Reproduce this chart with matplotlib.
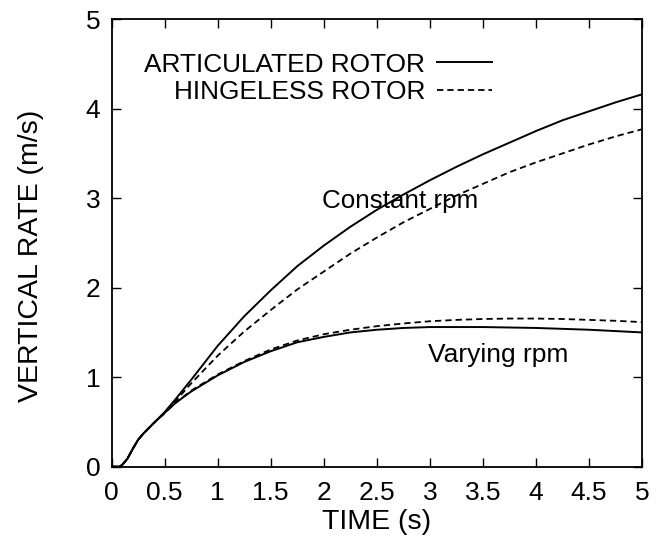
import matplotlib
matplotlib.use("Agg")
import matplotlib.pyplot as plt

plt.rcParams['font.family'] = ['Liberation Sans', 'DejaVu Sans']

time_s = [0, 0.07, 0.1, 0.15, 0.2, 0.25, 0.3, 0.35, 0.4, 0.5, 0.6, 0.75, 1.0, 1.25,
          1.5, 1.75, 2.0, 2.25, 2.5, 2.75, 3.0, 3.25, 3.5, 3.75, 4.0, 4.25, 4.5, 4.75, 5.0]

artic_const = [0, 0, 0.02, 0.09, 0.2, 0.3, 0.37, 0.43, 0.49, 0.61, 0.75, 0.97, 1.35, 1.68,
               1.97, 2.24, 2.47, 2.68, 2.87, 3.04, 3.2, 3.35, 3.49, 3.62, 3.75, 3.87, 3.97, 4.07, 4.16]
hinge_const = [0, 0, 0.02, 0.09, 0.2, 0.3, 0.37, 0.43, 0.49, 0.6, 0.73, 0.93, 1.24, 1.51,
               1.75, 1.98, 2.18, 2.38, 2.56, 2.73, 2.88, 3.03, 3.16, 3.29, 3.40, 3.50, 3.60, 3.69, 3.77]
artic_vary = [0, 0, 0.02, 0.09, 0.2, 0.3, 0.37, 0.43, 0.49, 0.6, 0.71, 0.84, 1.02, 1.17,
              1.29, 1.39, 1.45, 1.5, 1.53, 1.55, 1.56, 1.56, 1.56, 1.555, 1.55, 1.54, 1.53, 1.515, 1.50]
hinge_vary = [0, 0, 0.02, 0.09, 0.2, 0.3, 0.37, 0.43, 0.49, 0.6, 0.71, 0.85, 1.03, 1.18,
              1.31, 1.41, 1.48, 1.53, 1.57, 1.60, 1.625, 1.64, 1.65, 1.655, 1.655, 1.65, 1.64, 1.63, 1.615]

x_ticks = [0, 0.5, 1, 1.5, 2, 2.5, 3, 3.5, 4, 4.5, 5]
x_tick_labels = ["0", "0.5", "1", "1.5", "2", "2.5", "3", "3.5", "4", "4.5", "5"]
y_ticks = [0, 1, 2, 3, 4, 5]
y_tick_labels = ["0", "1", "2", "3", "4", "5"]

fig = plt.figure(figsize=(6.6, 5.38), dpi=100)
ax = fig.add_axes([0.169, 0.1325, 0.804, 0.832])

dash = (0, (3.5, 2.2))
l1, = ax.plot(time_s, artic_const, color='black', lw=1.4)
l2, = ax.plot(time_s, hinge_const, color='black', lw=1.3, linestyle=dash)
ax.plot(time_s, artic_vary, color='black', lw=1.4)
ax.plot(time_s, hinge_vary, color='black', lw=1.3, linestyle=dash)

ax.set_xlim(0, 5)
ax.set_ylim(0, 5)
ax.set_xticks(x_ticks)
ax.set_xticklabels(x_tick_labels)
ax.set_yticks(y_ticks)
ax.set_yticklabels(y_tick_labels)
ax.tick_params(axis='both', direction='in', length=6.5, width=1.0, labelsize=19,
               top=True, right=True)
ax.tick_params(axis='x', pad=10)
ax.tick_params(axis='y', pad=8)
for s in ax.spines.values():
    s.set_linewidth(1.3)

ax.set_xlabel("TIME (s)", fontsize=20.5, labelpad=3)
ax.set_ylabel("VERTICAL RATE (m/s)", fontsize=20.5, labelpad=30, y=0.47)

ax.text(1.98, 2.97, "Constant rpm", fontsize=18.7, ha='left', va='center')
ax.text(2.98, 1.245, "Varying rpm", fontsize=19, ha='left', va='center')

ax.legend(handles=[l1, l2], labels=["ARTICULATED ROTOR", "HINGELESS ROTOR"],
          loc='upper right', bbox_to_anchor=(0.717, 0.925), frameon=False,
          markerfirst=False, fontsize=18.9, handlelength=2.1, handletextpad=0.45,
          labelspacing=0.12, borderpad=0, borderaxespad=0)

fig.savefig("out.png", dpi=100)
